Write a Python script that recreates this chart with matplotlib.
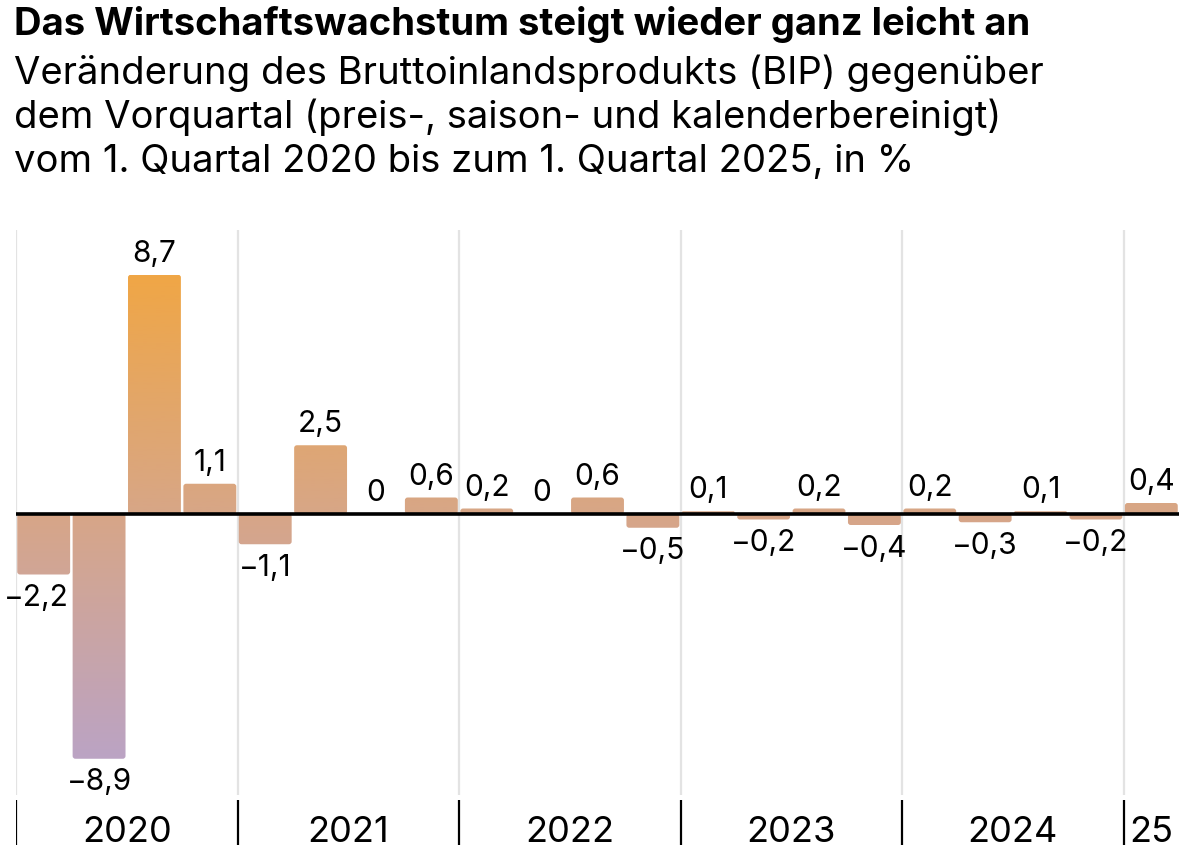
import numpy as np
import matplotlib
matplotlib.use('Agg')
import matplotlib.pyplot as plt
from matplotlib.colors import LinearSegmentedColormap
from matplotlib.patches import FancyBboxPatch

plt.rcParams['font.family'] = ['Inter', 'DejaVu Sans']

# Q1 2020 .. Q1 2025, change vs previous quarter in %
values = [-2.2, -8.9, 8.7, 1.1,
          -1.1, 2.5, 0, 0.6,
          0.2, 0, 0.6, -0.5,
          0.1, -0.2, 0.2, -0.4,
          0.2, -0.3, 0.1, -0.2,
          0.4]
years = ['2020', '2021', '2022', '2023', '2024', '25']
quarters_per_year = [4, 4, 4, 4, 4, 1]

title = 'Das Wirtschaftswachstum steigt wieder ganz leicht an'
subtitle = ['Veränderung des Bruttoinlandsprodukts (BIP) gegenüber',
            'dem Vorquartal (preis-, saison- und kalenderbereinigt)',
            'vom 1. Quartal 2020 bis zum 1. Quartal 2025, in %']

W, H = 1200, 859
fig = plt.figure(figsize=(W / 100, H / 100), dpi=100)

# axes box in pixels
left_px, right_px = 16, 1179
top_px, bot_px = 225, 859
zero_px = 514
px_per_unit = 27.5
ax = fig.add_axes([left_px / W, 1 - bot_px / H, (right_px - left_px) / W, (bot_px - top_px) / H])
n = len(values)
ax.set_xlim(-0.5, n - 0.5)
ax.set_ylim(-(bot_px - zero_px) / px_per_unit, (zero_px - top_px) / px_per_unit)
ax.axis('off')

def ypx(p):
    return (zero_px - p) / px_per_unit

# year boundaries
bounds = np.concatenate([[0], np.cumsum(quarters_per_year)]) - 0.5
for b in bounds[:-1]:
    ax.plot([b, b], [ypx(230), ypx(795)], color='#e3e3e3', lw=1.6, zorder=0, solid_capstyle='butt')
    ax.plot([b, b], [ypx(800), ypx(845)], color='black', lw=1.6, zorder=3, solid_capstyle='butt')
for i, y in enumerate(years):
    cx = (bounds[i] + bounds[i + 1]) / 2
    ax.text(cx, ypx(832), y, ha='center', va='center', fontsize=26, color='black')

cmap = LinearSegmentedColormap.from_list('bip', ['#bba3c4', '#d7a688', '#f0a646'])
grad = np.linspace(0, 1, 256).reshape(-1, 1)
vmin, vmax = min(values), max(values)

bw = 0.955
r = 0.05
for i, v in enumerate(values):
    if v != 0:
        y0 = min(0, v)
        h = abs(v)
        patch = FancyBboxPatch((i - bw / 2, y0), bw, h,
                               boxstyle='round,pad=0,rounding_size=%f' % min(r, h / 2 * 0.5),
                               mutation_aspect=2.0, fc='none', ec='none')
        ax.add_patch(patch)
        im = ax.imshow(grad, cmap=cmap, aspect='auto', origin='lower',
                       extent=[-0.5, n - 0.5, vmin, vmax], zorder=1)
        im.set_clip_path(patch)
    lab = ('%.1f' % v).replace('.', ',').replace('-', '\u2212') if v != 0 else '0'
    if v >= 0:
        ax.annotate(lab, (i, v), xytext=(0, 5), textcoords='offset points',
                    ha='center', va='bottom', fontsize=21.5)
    else:
        dx = -5 if i == 0 else 0
        ax.annotate(lab, (i, v), xytext=(dx, -7), textcoords='offset points',
                    ha='center', va='top', fontsize=21.5)

ax.axhline(0, color='black', lw=2.6, zorder=4)
ax.set_xlim(-0.5, n - 0.5)

fig.text(14 / W, 1 - 6 / H, title, fontsize=27.5, fontweight='bold', ha='left', va='top')
for k, line in enumerate(subtitle):
    fig.text(14 / W, 1 - (54 + 45 * k) / H, line, fontsize=27.5, ha='left', va='top')

fig.savefig('out.png', dpi=100)
